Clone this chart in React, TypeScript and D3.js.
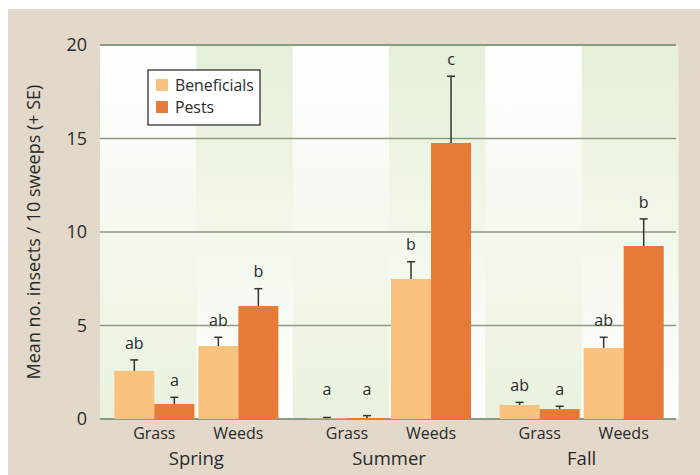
import React from "react";
import * as d3 from "d3";

const seasons = ["Spring", "Summer", "Fall"];
const habitats = ["Grass", "Weeds"];
const seriesNames = ["Beneficials", "Pests"];
// values ordered Spring-Grass, Spring-Weeds, Summer-Grass, Summer-Weeds, Fall-Grass, Fall-Weeds
const beneficialMeans = [2.57, 3.9, 0.03, 7.49, 0.75, 3.8];
const beneficialSE = [0.59, 0.47, 0.05, 0.92, 0.14, 0.57];
const pestMeans = [0.8, 6.04, 0.05, 14.76, 0.53, 9.25];
const pestSE = [0.36, 0.93, 0.13, 3.57, 0.15, 1.45];
const beneficialLetters = ["ab", "ab", "a", "b", "ab", "ab"];
const pestLetters = ["a", "b", "a", "c", "a", "b"];
const yTicks = [0, 5, 10, 15, 20];

const seriesColors = ["#f9c27e", "#e67b37"];
const font = "'Open Sans', 'DejaVu Sans', sans-serif";
const textColor = "#2a2a2a";

const App = () => {
  const svgWidth = 700;
  const svgHeight = 475;
  const left = 100;
  const top = 45;
  const plotWidth = 578;
  const plotHeight = 374;

  const x0 = d3.scaleBand().domain(seasons).range([0, plotWidth]);
  const pad = 14.3;
  const x1 = d3
    .scaleBand()
    .domain(habitats)
    .range([pad, x0.bandwidth() - pad])
    .paddingInner(4 / 84);
  const x2 = d3.scaleBand().domain(seriesNames).range([0, x1.bandwidth()]);
  const y = d3.scaleLinear().domain([0, 20]).range([plotHeight, 0]);

  const columns = seasons.flatMap((s) => habitats.map((h) => `${s}-${h}`));
  const colScale = d3.scaleBand().domain(columns).range([0, plotWidth]);

  const series = [
    { means: beneficialMeans, se: beneficialSE, letters: beneficialLetters },
    { means: pestMeans, se: pestSE, letters: pestLetters },
  ];

  return (
    <svg
      width={svgWidth}
      height={svgHeight}
      style={{ position: "absolute", left: 0, top: 0, fontFamily: font }}
    >
      <defs>
        <linearGradient id="gDown" x1="0" y1="0" x2="0" y2="1">
          <stop offset="0" stopColor="#ffffff" />
          <stop offset="1" stopColor="#e9f2de" />
        </linearGradient>
        <linearGradient id="gUp" x1="0" y1="0" x2="0" y2="1">
          <stop offset="0" stopColor="#e5f0d7" />
          <stop offset="1" stopColor="#ffffff" />
        </linearGradient>
      </defs>
      <rect x="0" y="0" width={svgWidth} height={svgHeight} fill="#ffffff" />
      <rect x="8" y="9" width={svgWidth - 8} height={svgHeight - 9} fill="#e3d9ca" />
      <g transform={`translate(${left},${top})`}>
        {columns.map((c, i) => (
          <rect
            key={c}
            x={colScale(c)}
            y="0"
            width={colScale.bandwidth() + 0.5}
            height={plotHeight}
            fill={i % 2 === 0 ? "url(#gDown)" : "url(#gUp)"}
          />
        ))}
        {yTicks.map((t) => (
          <g key={t}>
            <line
              x1="0"
              x2={plotWidth - 2}
              y1={y(t)}
              y2={y(t)}
              stroke="#8b9a83"
              strokeWidth={t === 0 || t === 20 ? 2 : 1.3}
            />
            <text
              x="-13"
              y={y(t)}
              dy="0.36em"
              textAnchor="end"
              fontSize="18"
              fill={textColor}
            >
              {t}
            </text>
          </g>
        ))}
        {seasons.map((s, si) => (
          <g key={s} transform={`translate(${x0(s)},0)`}>
            {habitats.map((h, hi) => {
              const idx = si * habitats.length + hi;
              return (
                <g key={h} transform={`translate(${x1(h)},0)`}>
                  {seriesNames.map((n, j) => {
                    const m = series[j].means[idx];
                    const e = series[j].se[idx];
                    const bx = x2(n);
                    const cx = bx + x2.bandwidth() / 2;
                    const yErr = y(m + e);
                    const labelY = Math.min(yErr - 17, y(1.6));
                    return (
                      <g key={n}>
                        <line
                          x1={cx}
                          x2={cx}
                          y1={y(m)}
                          y2={yErr}
                          stroke="#333"
                          strokeWidth="1.5"
                        />
                        <line
                          x1={cx - 4}
                          x2={cx + 4}
                          y1={yErr}
                          y2={yErr}
                          stroke="#333"
                          strokeWidth="1.5"
                        />
                        <rect
                          x={bx}
                          y={y(m)}
                          width={x2.bandwidth()}
                          height={y(0) - y(m)}
                          fill={seriesColors[j]}
                        />
                        <text
                          x={cx}
                          y={labelY}
                          dy="0.35em"
                          textAnchor="middle"
                          fontSize="16"
                          fill={textColor}
                        >
                          {series[j].letters[idx]}
                        </text>
                      </g>
                    );
                  })}
                  <text
                    x={x1.bandwidth() / 2}
                    y={plotHeight + 19.5}
                    textAnchor="middle"
                    fontSize="16"
                    fill={textColor}
                  >
                    {h}
                  </text>
                </g>
              );
            })}
            <text
              x={x0.bandwidth() / 2}
              y={plotHeight + 45.5}
              textAnchor="middle"
              fontSize="18.5"
              fill={textColor}
            >
              {s}
            </text>
          </g>
        ))}
        <text
          transform={`translate(-60,${plotHeight / 2}) rotate(-90)`}
          textAnchor="middle"
          fontSize="18"
          fill={textColor}
        >
          Mean no. insects / 10 sweeps (+ SE)
        </text>
        <g transform="translate(48,25)">
          <rect
            x="0"
            y="0"
            width="112"
            height="55"
            fill="#ffffff"
            stroke="#333"
            strokeWidth="1.3"
          />
          {seriesNames.map((n, j) => (
            <g key={n} transform={`translate(8,${9 + j * 22})`}>
              <rect width="12" height="12" fill={seriesColors[j]} />
              <text x="19" y="6" dy="0.36em" fontSize="15.8" fill={textColor}>
                {n}
              </text>
            </g>
          ))}
        </g>
      </g>
    </svg>
  );
};

export default App;
